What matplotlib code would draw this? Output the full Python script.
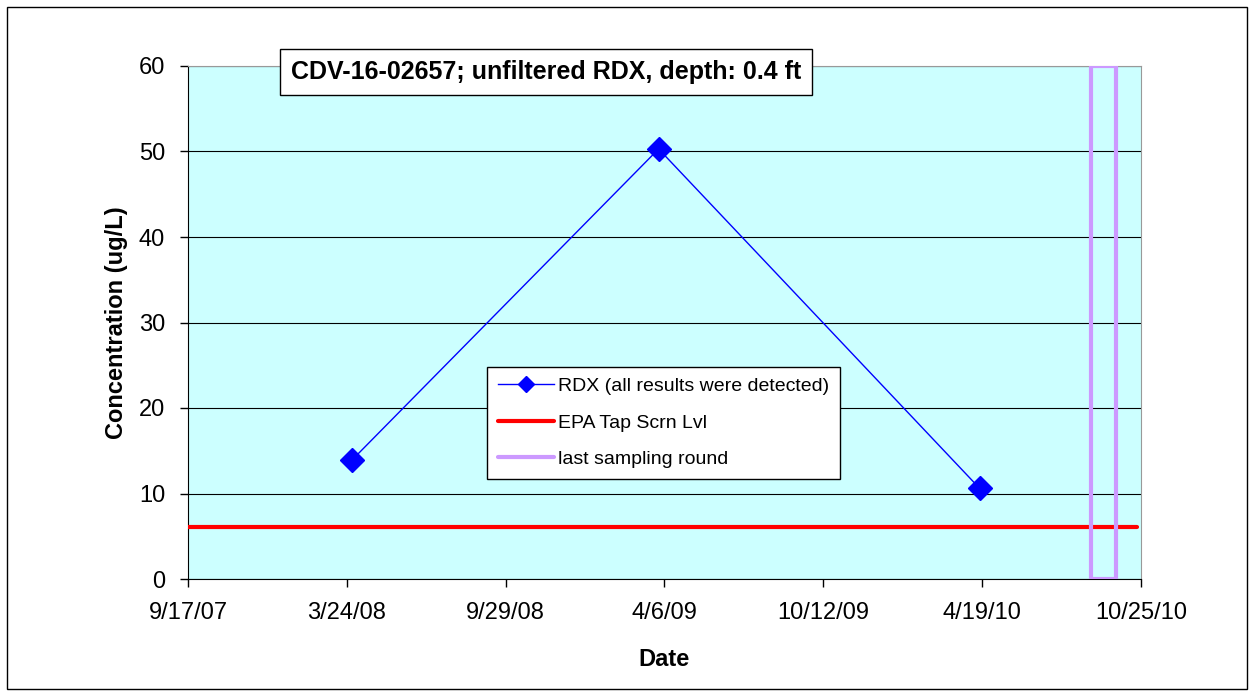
import datetime as dt
import matplotlib
matplotlib.use("Agg")
import matplotlib.pyplot as plt
import matplotlib.dates as mdates
from matplotlib.lines import Line2D
from matplotlib.patches import Rectangle
from matplotlib.ticker import FuncFormatter

# datos
fechas_muestreo = [dt.date(2008, 3, 30), dt.date(2009, 3, 30), dt.date(2010, 4, 16)]
rdx = [13.9, 50.3, 10.6]
nivel_epa = 6.1
ultima_ronda = dt.date(2010, 9, 10)
eje_inicio = dt.date(2007, 9, 17)
eje_fin = dt.date(2010, 10, 25)
paso_dias = 189
titulo = "CDV-16-02657; unfiltered RDX, depth: 0.4 ft"

plt.rcParams['font.family'] = ['Liberation Sans', 'DejaVu Sans']

fig = plt.figure(figsize=(12.54, 6.96), dpi=100)
ax = fig.add_axes([188 / 1254, 117 / 696, 953 / 1254, 513 / 696])
ax.set_facecolor('#CCFFFF')

# marco exterior de la figura
fig.patches.append(Rectangle((7 / 1254, 7 / 696), 1240 / 1254, 682 / 696,
                             transform=fig.transFigure, fill=False,
                             edgecolor='black', linewidth=1))

# lineas de cuadricula
ax.set_ylim(0, 60)
ax.set_yticks(range(0, 61, 10))
ax.yaxis.grid(True, color='black', linewidth=0.8)
ax.set_axisbelow(True)

# nivel EPA
ax.plot([eje_inicio, eje_fin - dt.timedelta(days=5)], [nivel_epa, nivel_epa],
        color='#FF0000', linewidth=3, solid_capstyle='round', zorder=3)

# ultima ronda de muestreo
ax.axvspan(ultima_ronda - dt.timedelta(days=15), ultima_ronda + dt.timedelta(days=15),
           ymin=0, ymax=1, fill=False, edgecolor='#CC99FF', linewidth=3, zorder=4)

# serie RDX
ax.plot(fechas_muestreo, rdx, color='#0000FF', linewidth=1, marker='D',
        markersize=12.5, markerfacecolor='#0000FF', markeredgecolor='#0000FF', zorder=5)

ax.set_xlim(eje_inicio, eje_fin)
ticks = [eje_inicio + dt.timedelta(days=paso_dias * k) for k in range(7)]
ax.set_xticks(ticks)
ax.xaxis.set_major_formatter(FuncFormatter(
    lambda v, p: (lambda d: f"{d.month}/{d.day}/{d:%y}")(mdates.num2date(v))))

ax.tick_params(axis='both', labelsize=17, direction='out', length=5.5, width=1, color='black')
ax.tick_params(axis='x', pad=11)
ax.tick_params(axis='y', pad=11)

for lado in ['left', 'bottom']:
    ax.spines[lado].set_color('black')
for lado in ['top', 'right']:
    ax.spines[lado].set_color('#999999')

ax.set_xlabel('Date', fontsize=17, fontweight='bold', labelpad=17)
ax.set_ylabel('Concentration (ug/L)', fontsize=17, fontweight='bold', labelpad=8)

# titulo en recuadro
fig.text(546 / 1254, 1 - 72 / 696, titulo, ha='center', va='center', fontsize=18,
         fontweight='bold',
         bbox=dict(boxstyle='square,pad=0.45', facecolor='white', edgecolor='black', linewidth=1))

# leyenda
handles = [
    Line2D([], [], color='#0000FF', linewidth=1, marker='D', markersize=8),
    Line2D([], [], color='#FF0000', linewidth=3, solid_capstyle='round'),
    Line2D([], [], color='#CC99FF', linewidth=3, solid_capstyle='round'),
]
labels = ['RDX (all results were detected)', 'EPA Tap Scrn Lvl', 'last sampling round']
leg = fig.legend(handles, labels, loc='upper left', bbox_to_anchor=(487 / 1254, 1 - 367 / 696),
                 fontsize=14, frameon=True, fancybox=False, edgecolor='black', framealpha=1,
                 handlelength=2.9, handletextpad=0.2, labelspacing=0.96, borderpad=0.55,
                 borderaxespad=0)
leg.get_frame().set_linewidth(1)

fig.savefig('out.png', dpi=100)
